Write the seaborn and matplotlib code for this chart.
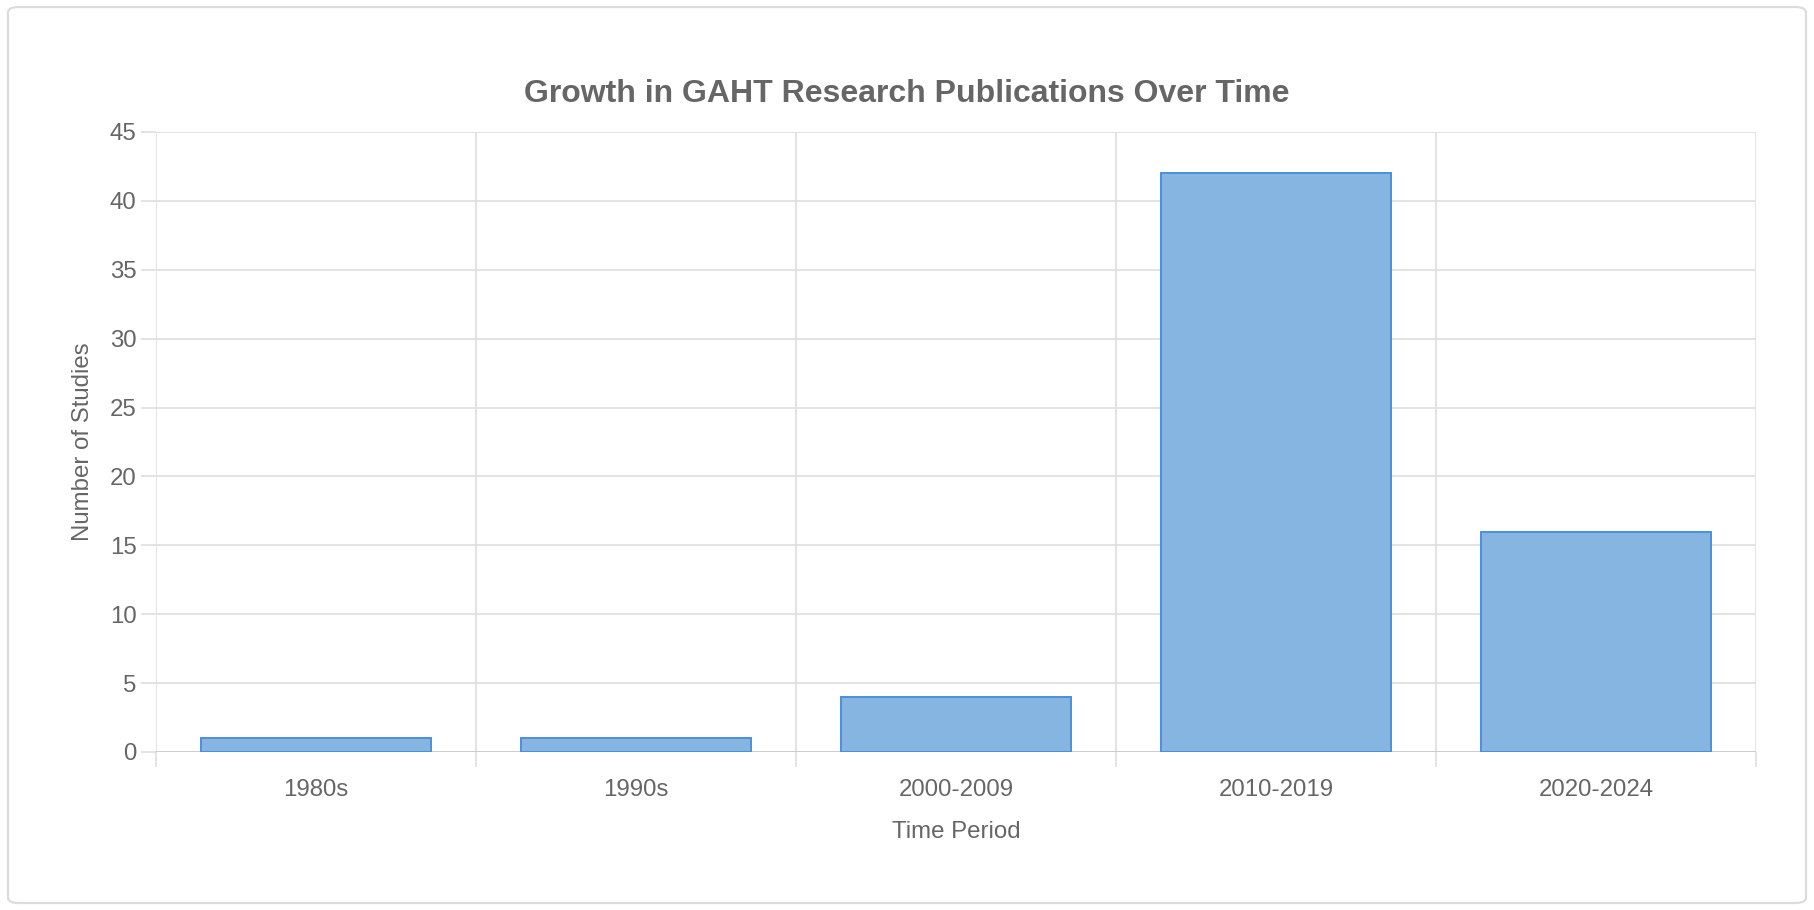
import matplotlib
matplotlib.use("Agg")
import matplotlib.pyplot as plt
import seaborn as sns
import pandas as pd
from matplotlib.patches import FancyBboxPatch
from matplotlib.ticker import FixedLocator

periods = ["1980s", "1990s", "2000-2009", "2010-2019", "2020-2024"]
studies = [1, 1, 4, 42, 16]
y_ticks = [0, 5, 10, 15, 20, 25, 30, 35, 40, 45]

title = "Growth in GAHT Research Publications Over Time"
xlabel = "Time Period"
ylabel = "Number of Studies"

sns.set_theme(style="white")
plt.rcParams["font.family"] = ["Liberation Sans", "DejaVu Sans"]

df = pd.DataFrame({"period": periods, "studies": studies})

W, H = 1814, 910
fig = plt.figure(figsize=(W / 100, H / 100), dpi=100)
fig.patch.set_facecolor("white")

# card border
card = FancyBboxPatch((8 / W, 7 / H), (1806 - 8) / W, (903 - 7) / H,
                      boxstyle="round,pad=0,rounding_size=0.006",
                      transform=fig.transFigure, facecolor="none",
                      edgecolor="#dcdcdc", linewidth=1.6, zorder=-1)
fig.patches.append(card)

left, right, top, bottom = 156, 1756, 132, 752
ax = fig.add_axes([left / W, 1 - bottom / H, (right - left) / W, (bottom - top) / H])
ax.set_facecolor("none")

sns.barplot(data=df, x="period", y="studies", ax=ax, width=0.72,
            color="#86b5e2", saturation=1, edgecolor="#4a90d9", linewidth=1.4,
            zorder=3)

ax.set_xlim(-0.5, len(periods) - 0.5)
ax.set_ylim(0, 45)
ax.set_yticks(y_ticks)

grid_c = "#e0e0e0"
text_c = "#666666"

# horizontal grid
for yv in y_ticks:
    ax.axhline(yv, color=("#c8c8c8" if yv == 0 else grid_c), linewidth=1.3, zorder=1)
# vertical grid at category boundaries
ax.xaxis.set_minor_locator(FixedLocator([i - 0.5 for i in range(len(periods) + 1)]))
ax.grid(True, which="minor", axis="x", color=grid_c, linewidth=1.3, zorder=1)
ax.grid(False, which="major", axis="x")

ax.tick_params(axis="x", which="major", length=0, pad=19.5, labelsize=17.3, labelcolor=text_c)
ax.tick_params(axis="x", which="minor", length=11, width=1.3, color=grid_c, bottom=True)
ax.tick_params(axis="y", which="major", length=11, width=1.3, color=grid_c, pad=3,
               labelsize=17.3, labelcolor=text_c, left=True)

for s in ax.spines.values():
    s.set_visible(False)

ax.set_xlabel(xlabel, fontsize=17.3, color=text_c, labelpad=14)
ax.set_ylabel(ylabel, fontsize=17.3, color=text_c, labelpad=11.5)

fig.text(0.5, 1 - 94.5 / H, title, ha="center", va="center",
         fontsize=23, fontweight="bold", color=text_c)

fig.savefig("out.png", dpi=100, facecolor="white")
